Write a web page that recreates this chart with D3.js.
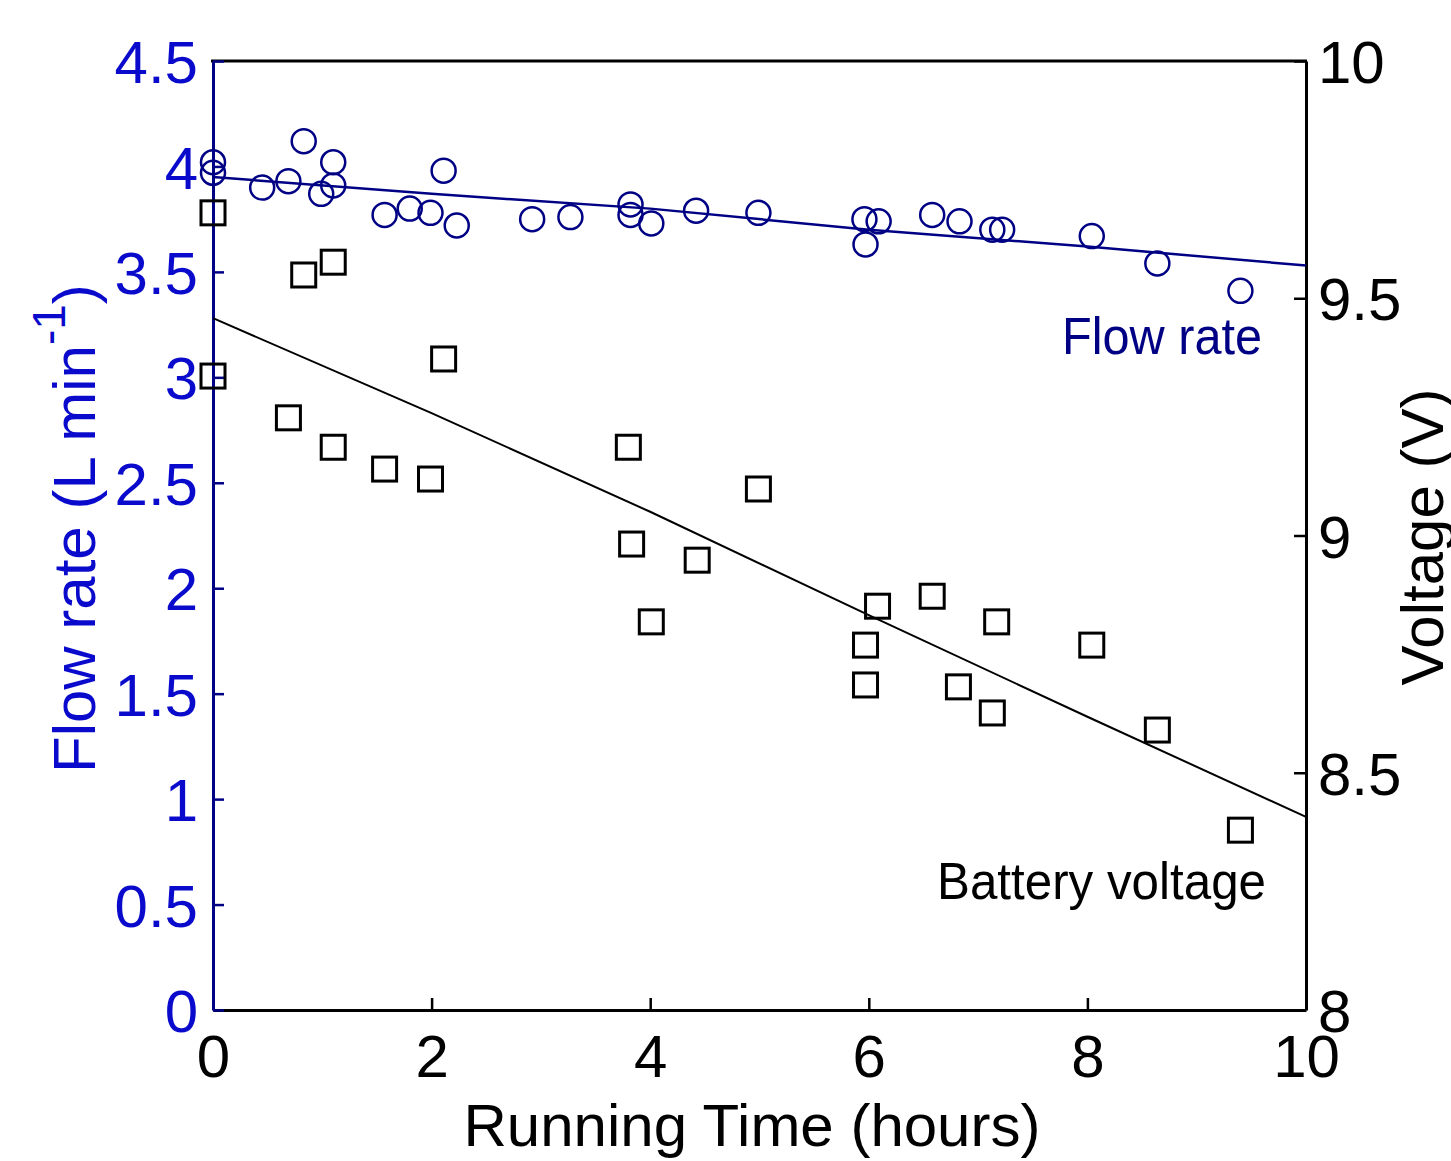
<!DOCTYPE html>
<html>
<head>
<meta charset="utf-8">
<script src="https://cdn.jsdelivr.net/npm/d3@7"></script>
<style>
  body { margin: 0; background: #fff; }
  text { font-family: 'Liberation Sans', Arial, sans-serif; }
</style>
</head>
<body>
<div id="chart"></div>
<script>
// flow rate measurements (circles)
const flowTime = [0, 0, 0.45, 0.69, 0.83, 0.99, 1.10, 1.10, 1.57, 1.80, 1.99, 2.11, 2.23, 2.92, 3.27,
  3.82, 3.82, 4.01, 4.42, 4.99, 5.96, 5.97, 6.09, 6.58, 6.83, 7.13, 7.22, 8.04, 8.64, 9.40]
const flowRate = [4.02, 3.97, 3.90, 3.93, 4.12, 3.87, 4.02, 3.91, 3.77, 3.80, 3.78, 3.98, 3.72, 3.75, 3.76,
  3.82, 3.77, 3.73, 3.79, 3.78, 3.75, 3.63, 3.74, 3.77, 3.74, 3.70, 3.70, 3.67, 3.54, 3.41]

// battery voltage measurements (squares)
const voltTime = [0, 0, 0.69, 0.83, 1.10, 1.10, 1.57, 1.99, 2.11, 3.80, 3.83, 4.01, 4.43, 4.99,
  5.97, 5.97, 6.08, 6.58, 6.82, 7.17, 7.13, 8.04, 8.64, 9.40]
const voltage = [9.680, 9.336, 9.248, 9.549, 9.576, 9.186, 9.140, 9.119, 9.372, 9.186, 8.982, 8.818, 8.948, 9.098,
  8.769, 8.685, 8.851, 8.872, 8.681, 8.818, 8.626, 8.769, 8.590, 8.379]

// fitted trend lines
const fitTime = [0, 2, 4, 6, 8, 10]
const flowFit = [3.95, 3.87, 3.80, 3.70, 3.62, 3.53]
const voltFit = [9.458, 9.258, 9.050, 8.832, 8.618, 8.407]

const xTicks = [0, 2, 4, 6, 8, 10]
const flowTicks = [0, 0.5, 1, 1.5, 2, 2.5, 3, 3.5, 4, 4.5]
const voltTicks = [8, 8.5, 9, 9.5, 10]

const W = 1451
const H = 1161
const plot = { left: 213, right: 1306, top: 61, bottom: 1010 }
const navy = '#000085'
const blue = '#0a0acc'

const svg = d3.select('#chart').append('svg')
  .attr('width', W)
  .attr('height', H)
  .style('background', '#fff')

const x = d3.scaleLinear().domain([0, 10]).range([plot.left, plot.right])
const yFlow = d3.scaleLinear().domain([0, 4.5]).range([plot.bottom, plot.top])
const yVolt = d3.scaleLinear().domain([8, 10]).range([plot.bottom, plot.top])

function styleAxis(g, color, textColor) {
  g.attr('font-size', 60).attr('font-family', "'Liberation Sans', Arial, sans-serif")
  g.select('.domain').attr('stroke', color).attr('stroke-width', 3)
  g.selectAll('.tick line').attr('stroke', color).attr('stroke-width', 2.5)
  g.selectAll('.tick text').attr('fill', textColor)
}

// top border
svg.append('line')
  .attr('x1', plot.left - 2).attr('x2', plot.right + 1)
  .attr('y1', plot.top).attr('y2', plot.top)
  .attr('stroke', '#000').attr('stroke-width', 3)

// bottom axis
const gx = svg.append('g')
  .attr('transform', `translate(0,${plot.bottom})`)
  .call(d3.axisBottom(x).tickValues(xTicks).tickSize(-12).tickSizeOuter(0).tickPadding(24))
styleAxis(gx, '#000', '#000')

// right axis (voltage)
const gr = svg.append('g')
  .attr('transform', `translate(${plot.right},0)`)
  .call(d3.axisRight(yVolt).tickValues(voltTicks).tickSize(-12).tickSizeOuter(0).tickPadding(12).tickFormat((d) => String(d)))
styleAxis(gr, '#000', '#000')
gr.selectAll('.tick text').attr('dy', '0.36em')

// left axis (flow rate)
const gl = svg.append('g')
  .attr('transform', `translate(${plot.left},0)`)
  .call(d3.axisLeft(yFlow).tickValues(flowTicks).tickSize(-11).tickSizeOuter(0).tickPadding(15).tickFormat((d) => String(d)))
styleAxis(gl, navy, blue)
gl.selectAll('.tick text').attr('dy', '0.36em')

// fit lines
const lineFlow = d3.line().x((d, i) => x(fitTime[i])).y((d) => yFlow(d))
const lineVolt = d3.line().x((d, i) => x(fitTime[i])).y((d) => yVolt(d))

svg.append('path')
  .attr('d', lineVolt(voltFit))
  .attr('fill', 'none').attr('stroke', '#000').attr('stroke-width', 2)

svg.append('path')
  .attr('d', lineFlow(flowFit))
  .attr('fill', 'none').attr('stroke', navy).attr('stroke-width', 2.5)

// squares
svg.selectAll('rect.volt')
  .data(voltage)
  .enter()
  .append('rect')
  .attr('class', 'volt')
  .attr('x', (d, i) => x(voltTime[i]) - 12)
  .attr('y', (d) => yVolt(d) - 12)
  .attr('width', 24)
  .attr('height', 24)
  .attr('fill', 'none')
  .attr('stroke', '#000')
  .attr('stroke-width', 3)

// circles
svg.selectAll('circle.flow')
  .data(flowRate)
  .enter()
  .append('circle')
  .attr('class', 'flow')
  .attr('cx', (d, i) => x(flowTime[i]))
  .attr('cy', (d) => yFlow(d))
  .attr('r', 12)
  .attr('fill', 'none')
  .attr('stroke', navy)
  .attr('stroke-width', 2.5)

// annotations
svg.append('text')
  .attr('x', 1062).attr('y', 354)
  .attr('font-size', 52)
  .attr('textLength', 200).attr('lengthAdjust', 'spacingAndGlyphs')
  .attr('fill', navy)
  .text('Flow rate')

svg.append('text')
  .attr('x', 937).attr('y', 899)
  .attr('font-size', 52)
  .attr('textLength', 329).attr('lengthAdjust', 'spacingAndGlyphs')
  .attr('fill', '#000')
  .text('Battery voltage')

// axis titles
svg.append('text')
  .attr('x', 752).attr('y', 1146)
  .attr('text-anchor', 'middle')
  .attr('font-size', 60)
  .attr('fill', '#000')
  .text('Running Time (hours)')

const yLabel = svg.append('text')
  .attr('transform', 'translate(95,773) rotate(-90)')
  .attr('font-size', 60)
  .attr('fill', blue)
yLabel.append('tspan').text('Flow rate (L min')
yLabel.append('tspan').attr('font-size', 46).attr('dy', -30).text('-1')
yLabel.append('tspan').attr('dy', 30).text(')')

svg.append('text')
  .attr('transform', 'translate(1443,537) rotate(-90)')
  .attr('text-anchor', 'middle')
  .attr('font-size', 60)
  .attr('fill', '#000')
  .text('Voltage (V)')
</script>
</body>
</html>
